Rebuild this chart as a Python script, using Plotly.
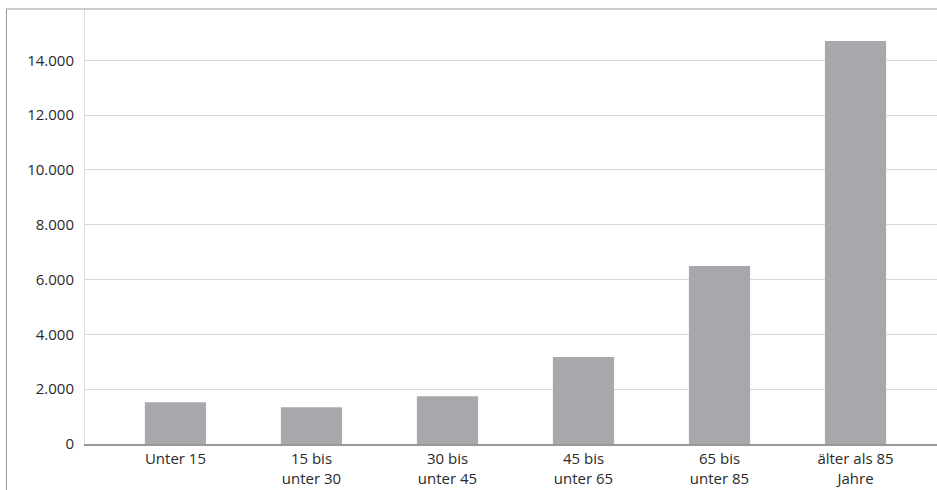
import plotly.graph_objects as go

categories = ["Unter 15", "15 bis<br>unter 30", "30 bis<br>unter 45", "45 bis<br>unter 65",
              "65 bis<br>unter 85", "älter als 85<br>Jahre"]
values = [1525, 1345, 1745, 3170, 6490, 14700]
y_ticks = [0, 2000, 4000, 6000, 8000, 10000, 12000, 14000]
y_ticklabels = ["0", "2.000", "4.000", "6.000", "8.000", "10.000", "12.000", "14.000"]

FONT = "Open Sans"
W, H = 937, 490
L, R, T, B = 85, 0, 9, 46

fig = go.Figure(go.Bar(
    x=categories, y=values,
    marker=dict(color="#a7a8ab", line=dict(width=0)),
    width=0.45,
))

pw = W - L - R
ph = H - T - B
fx = (6.5 - L) / pw
fy_bottom = -(B + 2) / ph

fig.update_layout(
    width=W, height=H,
    margin=dict(l=L, r=R, t=T, b=B, pad=0),
    paper_bgcolor="white", plot_bgcolor="white",
    font=dict(family=FONT, size=15, color="#2a2a2a"),
    showlegend=False,
    xaxis=dict(
        type="category",
        range=[-0.665, 5.599],
        showgrid=False,
        showline=True, linecolor="#999999", linewidth=2,
        ticks="", tickfont=dict(size=15, color="#2a2a2a"),
        zeroline=False,
    ),
    yaxis=dict(
        range=[0, 15870],
        tickvals=y_ticks, ticktext=y_ticklabels,
        showgrid=True, gridcolor="#d8d8d8", gridwidth=1,
        showline=True, linecolor="#dddddd", linewidth=1,
        zeroline=False,
        ticks="", ticklabelstandoff=7,
        tickfont=dict(size=15, color="#2a2a2a"),
    ),
    shapes=[
        dict(type="line", xref="paper", yref="paper", x0=fx, x1=fx, y0=1, y1=fy_bottom,
             line=dict(color="#999999", width=1)),
        dict(type="line", xref="paper", yref="paper", x0=fx, x1=1.01, y0=1, y1=1,
             line=dict(color="#999999", width=1)),
    ],
)

fig.write_html("out.html", config={"displayModeBar": False},
               post_script="document.body.style.margin='0';")
